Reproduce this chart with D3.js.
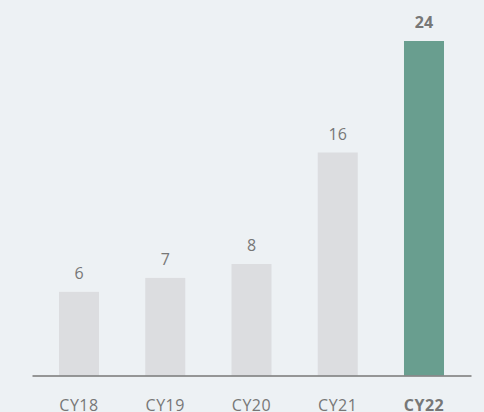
<!DOCTYPE html>
<html>
<head>
<meta charset="utf-8">
<script src="https://cdn.jsdelivr.net/npm/d3@7"></script>
<style>
  html, body { margin: 0; padding: 0; background: #edf1f4; }
  svg { display: block; font-family: "Open Sans", "Noto Sans", sans-serif; }
</style>
</head>
<body>
<div id="chart"></div>
<script>
const WIDTH_PX = 484;
const HEIGHT_PX = 412;

const categories = ['CY18', 'CY19', 'CY20', 'CY21', 'CY22'];
const values = [6, 7, 8, 16, 24];
const highlight = 'CY22';

let svg = d3.select('#chart').append('svg')
    .attr('width', WIDTH_PX)
    .attr('height', HEIGHT_PX);

svg.append('rect')
    .attr('width', WIDTH_PX)
    .attr('height', HEIGHT_PX)
    .attr('fill', '#edf1f4');

let xScale = d3.scaleBand()
    .domain(categories)
    .range([32, 471])
    .paddingInner(0.536)
    .paddingOuter(0.313);

let yScale = d3.scaleLinear()
    .domain([0, 24])
    .range([375.5, 41]);

let bars = categories.map(function(c, i) { return { cat: c, value: values[i] }; });

svg.selectAll('rect.bar')
    .data(bars)
    .enter().append('rect')
    .attr('class', 'bar')
    .attr('x', function(d) { return xScale(d.cat); })
    .attr('width', xScale.bandwidth())
    .attr('y', function(d) { return yScale(d.value); })
    .attr('height', function(d) { return yScale(0) - yScale(d.value); })
    .attr('fill', function(d) { return d.cat == highlight ? '#699e8f' : '#dcdde0'; });

// value labels above the bars
svg.selectAll('text.value')
    .data(bars)
    .enter().append('text')
    .attr('class', 'value')
    .attr('x', function(d) { return xScale(d.cat) + xScale.bandwidth() / 2; })
    .attr('y', function(d) { return yScale(d.value) - 13; })
    .attr('text-anchor', 'middle')
    .attr('font-size', 16)
    .attr('font-weight', function(d) { return d.cat == highlight ? 'bold' : 'normal'; })
    .attr('fill', '#777')
    .text(function(d) { return d.value; });

let axis = svg.append('g')
    .attr('transform', 'translate(0,' + yScale(0) + ')')
    .call(d3.axisBottom(xScale).tickSize(0).tickPadding(24));

axis.select('.domain')
    .attr('stroke', '#777')
    .attr('stroke-width', 1.5);

axis.selectAll('text')
    .attr('font-family', '"Open Sans", "Noto Sans", sans-serif')
    .attr('font-size', 16)
    .attr('fill', '#777')
    .attr('font-weight', function(d) { return d == highlight ? 'bold' : 'normal'; })
    .attr('letter-spacing', 0.5);
</script>
</body>
</html>
